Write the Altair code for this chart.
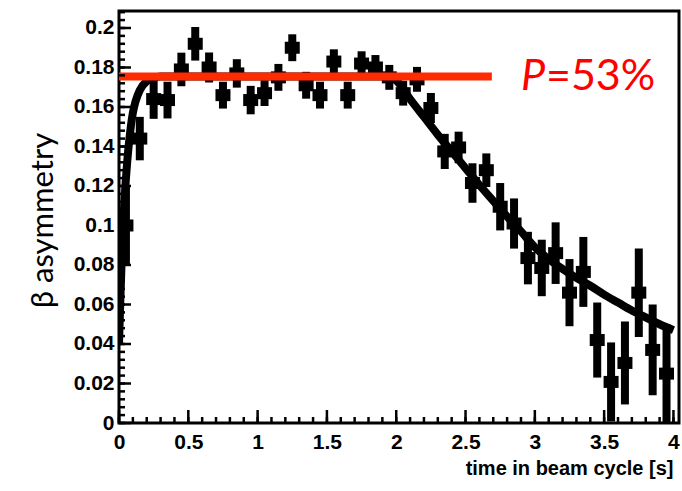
import altair as alt
import pandas as pd

# ---- data ----
t_bins = [0.05, 0.15, 0.25, 0.35, 0.45, 0.55, 0.65, 0.75, 0.85, 0.95,
          1.05, 1.15, 1.25, 1.35, 1.45, 1.55, 1.65, 1.75, 1.85, 1.95,
          2.05, 2.15, 2.25, 2.35, 2.45, 2.55, 2.65, 2.75, 2.85, 2.95,
          3.05, 3.15, 3.25, 3.35, 3.45, 3.55, 3.65, 3.75, 3.85, 3.95]
asym = [0.100, 0.144, 0.164, 0.1635, 0.179, 0.192, 0.180, 0.166, 0.177, 0.1635,
        0.167, 0.175, 0.190, 0.171, 0.166, 0.183, 0.166, 0.182, 0.180, 0.175,
        0.167, 0.174, 0.1595, 0.1375, 0.1395, 0.1215, 0.128, 0.1095, 0.101, 0.0835,
        0.0785, 0.086, 0.066, 0.0765, 0.042, 0.0208, 0.0304, 0.066, 0.037, 0.025]
asym_err = [0.020, 0.011, 0.010, 0.0093, 0.0085, 0.0085, 0.0076, 0.0068, 0.0072, 0.0072,
            0.0065, 0.0068, 0.0068, 0.0068, 0.0068, 0.0062, 0.0068, 0.0062, 0.0063, 0.0063,
            0.0063, 0.0063, 0.0076, 0.0089, 0.0080, 0.0100, 0.0085, 0.0120, 0.0127, 0.0133,
            0.0143, 0.0156, 0.0170, 0.0177, 0.0190, 0.0200, 0.0210, 0.0224, 0.0230, 0.0250]

fit_t = [0.0, 0.01, 0.02, 0.04, 0.06, 0.08, 0.10, 0.12, 0.15, 0.20, 0.25, 0.30,
         1.0, 1.95, 2.0, 2.1, 2.2, 2.3, 2.4, 2.5, 2.6, 2.7, 2.8, 2.9, 3.0,
         3.1, 3.2, 3.3, 3.4, 3.5, 3.6, 3.7, 3.8, 3.9, 4.0]
fit_v = [0.040, 0.063, 0.084, 0.113, 0.133, 0.147, 0.157, 0.163, 0.1685, 0.173, 0.1748, 0.1755,
         0.1755, 0.1755, 0.1735, 0.164, 0.155, 0.146, 0.1375, 0.129, 0.1205, 0.1125, 0.1045, 0.097, 0.089,
         0.083, 0.078, 0.0735, 0.0695, 0.065, 0.061, 0.057, 0.0535, 0.050, 0.047]

pol_t = [0.0, 2.69]
pol_v = [0.1755, 0.1755]
pol_label = "P"
pol_text = "=53%"
pol_label_t = 2.9

y_major = [0.0, 0.02, 0.04, 0.06, 0.08, 0.10, 0.12, 0.14, 0.16, 0.18, 0.20]
y_minor = [round(0.004 * i, 3) for i in range(0, 53)]
x_major = [0.0, 0.5, 1.0, 1.5, 2.0, 2.5, 3.0, 3.5, 4.0]
x_minor = [round(0.1 * i, 1) for i in range(0, 41)]

W, H = 560, 412
YMAX = 0.2086
XMAX = 4.04

pts = pd.DataFrame({"t": t_bins, "v": asym, "lo": [a - e for a, e in zip(asym, asym_err)],
                    "hi": [a + e for a, e in zip(asym, asym_err)]})
fit = pd.DataFrame({"t": fit_t, "v": fit_v})
pol = pd.DataFrame({"t": pol_t, "v": pol_v})
lab = pd.DataFrame({"t": [pol_label_t], "v": [pol_v[0]], "p": [pol_label], "rest": [pol_text]})

xs = alt.Scale(domain=[0, XMAX], nice=False, zero=False)
ys = alt.Scale(domain=[0, YMAX], nice=False, zero=False)

label_font = "Liberation Sans"

x_axis = alt.Axis(values=x_major, format=".1~f", ticks=False, domain=False, grid=False,
                  labelFont=label_font, labelFontWeight="bold", labelFontSize=21,
                  labelColor="black", labelPadding=8, labelFlush=False,
                  title="time in beam cycle [s]", titleFont=label_font, titleFontWeight="bold",
                  titleFontSize=20, titleColor="black", titleAlign="right", titleAnchor="end",
                  titleX=554, titleY=51, titleBaseline="alphabetic")
y_axis = alt.Axis(values=y_major, format=".2~f", ticks=False, domain=False, grid=False,
                  labelFont=label_font, labelFontWeight="bold", labelFontSize=21,
                  labelColor="black", labelPadding=5, labelFlush=False,
                  title="β asymmetry", titleFont="Lato", titleFontWeight="normal",
                  titleFontSize=31, titleColor="black", titleAngle=270, titleAlign="center",
                  titleX=-67, titleY=209, titleBaseline="alphabetic")

errbars = alt.Chart(pts).mark_rule(color="black", strokeWidth=8, clip=True).encode(
    x=alt.X("t:Q", scale=xs, axis=x_axis),
    y=alt.Y("lo:Q", scale=ys, axis=y_axis),
    y2="hi:Q")

markers = alt.Chart(pts).mark_point(shape="M-1,-0.8H1V0.8H-1Z", size=225, filled=True,
                                     color="black", opacity=1, strokeWidth=0, clip=True).encode(
    x=alt.X("t:Q", scale=xs), y=alt.Y("v:Q", scale=ys))

curve = alt.Chart(fit).mark_line(color="black", strokeWidth=8, interpolate="monotone",
                                 clip=True, strokeCap="butt").encode(
    x=alt.X("t:Q", scale=xs), y=alt.Y("v:Q", scale=ys))

polline = alt.Chart(pol).mark_line(color="#FF2A00", strokeWidth=8, strokeCap="butt").encode(
    x=alt.X("t:Q", scale=xs), y=alt.Y("v:Q", scale=ys))

ptext = alt.Chart(lab).mark_text(align="left", baseline="middle", font="Lato", fontStyle="italic",
                                 fontSize=43, color="#FF0000", dy=1).encode(
    x=alt.X("t:Q", scale=xs), y=alt.Y("v:Q", scale=ys), text="p:N")
rtext = alt.Chart(lab).mark_text(align="left", baseline="middle", font="Lato",
                                 fontSize=43, color="#FF0000", dx=25, dy=1).encode(
    x=alt.X("t:Q", scale=xs), y=alt.Y("v:Q", scale=ys), text="rest:N")

ymaj = alt.Chart(pd.DataFrame({"v": y_major})).mark_rule(color="black", strokeWidth=2.5).encode(
    y=alt.Y("v:Q", scale=ys), x=alt.value(0), x2=alt.value(12))
ymin = alt.Chart(pd.DataFrame({"v": y_minor})).mark_rule(color="black", strokeWidth=2.5).encode(
    y=alt.Y("v:Q", scale=ys), x=alt.value(0), x2=alt.value(6))
xmaj = alt.Chart(pd.DataFrame({"t": x_major})).mark_rule(color="black", strokeWidth=2.5).encode(
    x=alt.X("t:Q", scale=xs), y=alt.value(H), y2=alt.value(H - 13))
xmin = alt.Chart(pd.DataFrame({"t": x_minor})).mark_rule(color="black", strokeWidth=2.5).encode(
    x=alt.X("t:Q", scale=xs), y=alt.value(H), y2=alt.value(H - 6))

chart = alt.layer(errbars, markers, curve, polline, ptext, rtext, ymaj, ymin, xmaj, xmin).properties(
    width=W, height=H,
    autosize=alt.AutoSizeParams(type="none"),
    padding={"left": 119, "top": 11, "right": 3, "bottom": 68},
    background="white",
).configure_view(stroke="black", strokeWidth=3)

chart.save("out.html", embed_options={"renderer": "svg", "actions": False})
